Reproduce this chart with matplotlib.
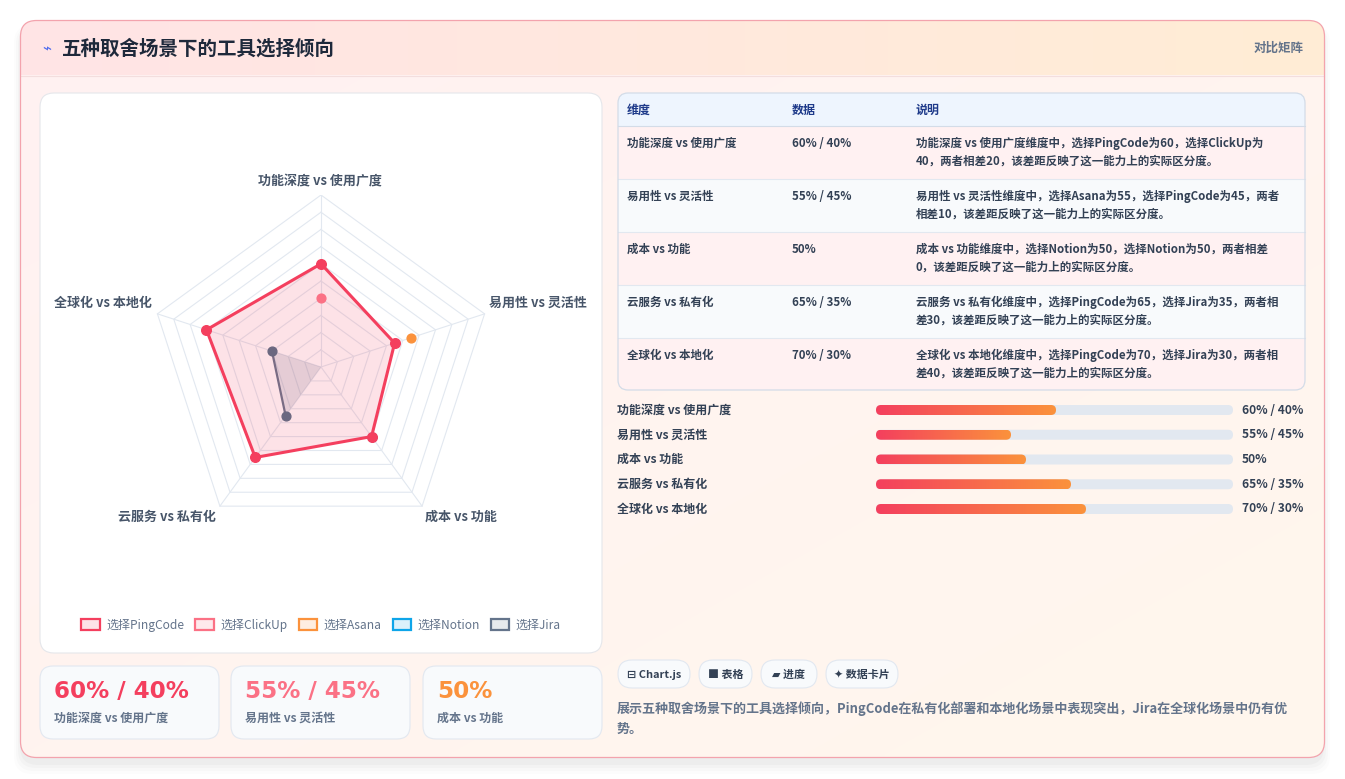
import numpy as np
import matplotlib
matplotlib.use("Agg")
import matplotlib.pyplot as plt
from matplotlib.patches import FancyBboxPatch, Patch, Polygon
from matplotlib.colors import LinearSegmentedColormap, to_rgba

plt.rcParams['font.family'] = ['Noto Sans CJK SC', 'DejaVu Sans']

W, H = 1345, 779

# ---- data ----
title = "五种取舍场景下的工具选择倾向"
tag = "对比矩阵"
dims = ["功能深度 vs 使用广度", "易用性 vs 灵活性", "成本 vs 功能", "云服务 vs 私有化", "全球化 vs 本地化"]
tools = ["选择PingCode", "选择ClickUp", "选择Asana", "选择Notion", "选择Jira"]
tool_colors = ["#f43f5e", "#fb7185", "#fb923c", "#0ea5e9", "#64748b"]
pingcode = [60, 45, 50, 65, 70]
clickup = [40, None, None, None, None]
asana = [None, 55, None, None, None]
notion = [None, None, 50, None, None]
jira = [None, None, None, 35, 30]
data_txt = ["60% / 40%", "55% / 45%", "50%", "65% / 35%", "70% / 30%"]
notes = [
    "功能深度 vs 使用广度维度中，选择PingCode为60，选择ClickUp为\n40，两者相差20，该差距反映了这一能力上的实际区分度。",
    "易用性 vs 灵活性维度中，选择Asana为55，选择PingCode为45，两者\n相差10，该差距反映了这一能力上的实际区分度。",
    "成本 vs 功能维度中，选择Notion为50，选择Notion为50，两者相差\n0，该差距反映了这一能力上的实际区分度。",
    "云服务 vs 私有化维度中，选择PingCode为65，选择Jira为35，两者相\n差30，该差距反映了这一能力上的实际区分度。",
    "全球化 vs 本地化维度中，选择PingCode为70，选择Jira为30，两者相\n差40，该差距反映了这一能力上的实际区分度。",
]
headers = ["维度", "数据", "说明"]
stat_colors = ["#f43f5e", "#fb7185", "#fb923c"]
chips = ["⊟ Chart.js", "■ 表格", "▰ 进度", "✦ 数据卡片"]
summary = ["展示五种取舍场景下的工具选择倾向，PingCode在私有化部署和本地化场景中表现突出，Jira在全球化场景中仍有优", "势。"]
bar_full = 119  # track length in value units


def pt(px):
    return px * 0.72


def rbox(ax, x, y, w, h, r, **kw):
    p = FancyBboxPatch((x, y), w, h, boxstyle=f"round,pad=0,rounding_size={r}", **kw)
    ax.add_patch(p)
    return p


def gradient(ax, extent, c0, c1, clip, diag=False, z=1):
    cmap = LinearSegmentedColormap.from_list("g", [c0, c1])
    xs = np.linspace(0, 1, 200)
    ys = np.linspace(0, 1, 100)
    if diag:
        arr = (xs[None, :] + ys[:, None]) / 2
    else:
        arr = np.tile(xs, (100, 1))
    im = ax.imshow(arr, cmap=cmap, extent=extent, aspect='auto', origin='upper',
                   interpolation='bilinear', zorder=z)
    im.set_clip_path(clip)
    return im


fig = plt.figure(figsize=(W / 100, H / 100), dpi=100)
fig.patch.set_facecolor("white")
bg = fig.add_axes([0, 0, 1, 1])
bg.set_xlim(0, W)
bg.set_ylim(H, 0)
bg.axis('off')

# shadow + main card
for i, a in enumerate([0.025, 0.02, 0.015, 0.01]):
    rbox(bg, 20 - i * 2, 24 - i * 1 + 4, 1304 + i * 4, 737 + i * 4, 18, fc="#000000", ec="none", alpha=a, zorder=0)
card = rbox(bg, 20.5, 20.5, 1304, 737, 16, fc="none", ec="#f3a3ad", lw=0.9, zorder=5)
gradient(bg, (20, 1325, 758, 20), "#fff1f2", "#fff7ed", card, diag=True, z=1)
gradient(bg, (20, 1325, 75, 20), "#ffe4e6", "#ffedd5", card, z=2)
bg.plot([21, 1324], [75.5, 75.5], color="#f3dede", lw=0.8, zorder=3)

bg.text(47, 49, "⌁", fontsize=pt(15), color="#4f6bed", ha="center", va="center", zorder=6,
        family=["DejaVu Sans"])
bg.text(62, 49, title, fontsize=pt(19.5), fontweight="bold", color="#1e293b", va="center", zorder=6)
bg.text(1304, 48, tag, fontsize=pt(12.5), color="#64748b", ha="right", va="center", fontweight="bold", zorder=6)

# radar card
rbox(bg, 40, 93, 562, 560, 14, fc="white", ec="#e5e7eb", lw=0.8, zorder=4)

# radar
cx, cy, R = 321, 367, 172
ax_r = fig.add_axes([(cx - R) / W, 1 - (cy + R) / H, 2 * R / W, 2 * R / H])
ax_r.set_xlim(-100, 100)
ax_r.set_ylim(-100, 100)
ax_r.axis('off')
ang = np.deg2rad(90 - 72 * np.arange(len(dims)))
for r in range(10, 101, 10):
    ax_r.plot(np.append(r * np.cos(ang), r * np.cos(ang[0])),
              np.append(r * np.sin(ang), r * np.sin(ang[0])), color="#e2e8f0", lw=0.8, zorder=1)
for a in ang:
    ax_r.plot([0, 100 * np.cos(a)], [0, 100 * np.sin(a)], color="#e2e8f0", lw=0.8, zorder=1)


def pts(vals):
    return [(v * np.cos(a), v * np.sin(a)) for v, a in zip(vals, ang) if v is not None]


# jira: partial series with fill to centre
jp = pts(jira)
ax_r.add_patch(Polygon([(0, 0)] + jp, closed=True, fc=(100 / 255, 116 / 255, 139 / 255, 0.18), ec="none", zorder=2))
ax_r.plot([p[0] for p in jp], [p[1] for p in jp], color="#64748b", lw=1.6, zorder=3)
ax_r.scatter([p[0] for p in jp], [p[1] for p in jp], s=40, color="#6b6880", zorder=4)
for vals, col in [(notion, "#0ea5e9"), (asana, "#fb923c"), (clickup, "#fb7185")]:
    p = pts(vals)
    ax_r.scatter([q[0] for q in p], [q[1] for q in p], s=40, color=col, zorder=4)
pp = pts(pingcode)
ax_r.add_patch(Polygon(pp, closed=True, fc=(244 / 255, 63 / 255, 94 / 255, 0.15), ec="#f43f5e", lw=2.2, zorder=3))
ax_r.scatter([p[0] for p in pp], [p[1] for p in pp], s=48, color="#f43f5e", zorder=5)

label_pos = [(320, 181, "center"), (489, 303, "left"), (425, 517, "left"), (216, 517, "right"), (152, 303, "right")]
for d, (x, y, ha) in zip(dims, label_pos):
    bg.text(x, y, d, fontsize=pt(13), fontweight="bold", color="#475569", ha=ha, va="center", zorder=6)

handles = [Patch(fc=to_rgba(c, 0.15), ec=c, lw=1.6) for c in tool_colors]
fig.legend(handles, tools, loc="center", bbox_to_anchor=(321 / W, 1 - 625 / H), ncol=5, frameon=False,
           fontsize=pt(12), handlelength=1.55, handleheight=1.0, handletextpad=0.5, columnspacing=0.95,
           labelcolor="#64748b")

# stat cards
for i, x0 in enumerate([40, 231, 423]):
    rbox(bg, x0, 666, 179, 73, 13, fc="#f8fafc", ec="#e2e8f0", lw=0.8, zorder=4)
    bg.text(x0 + 14, 692, data_txt[i], fontsize=pt(23), fontweight="bold", color=stat_colors[i],
            family="DejaVu Sans", va="center", zorder=6)
    bg.text(x0 + 14, 718, dims[i], fontsize=pt(12), color="#64748b", fontweight="bold", va="center", zorder=6)

# table
tbl = rbox(bg, 618, 93, 687, 297, 10, fc="none", ec="#d3dce8", lw=0.9, zorder=6)
hdr = bg.add_patch(plt.Rectangle((618, 93), 687, 33, fc="#eef5fe", ec="none", zorder=4))
hdr.set_clip_path(tbl)
bg.plot([618, 1305], [126, 126], color="#d3dce8", lw=0.8, zorder=5)
col_x = [627, 792, 916]
for x, t in zip(col_x, headers):
    bg.text(x, 110, t, fontsize=pt(12), fontweight="bold", color="#1e3a8a", va="center", zorder=6)
for i in range(len(dims)):
    y0 = 126 + 53 * i
    rc = bg.add_patch(plt.Rectangle((618, y0), 687, 53, fc="#fff1f2" if i % 2 == 0 else "#f8fafc",
                                    ec="none", zorder=4))
    rc.set_clip_path(tbl)
    if i > 0:
        bg.plot([618, 1305], [y0, y0], color="#e2e8f0", lw=0.8, zorder=5)
    bg.text(col_x[0], y0 + 17, dims[i], fontsize=pt(11.5), fontweight="bold", color="#334155", va="center", zorder=6)
    bg.text(col_x[1], y0 + 17, data_txt[i], fontsize=pt(11.5), fontweight="bold", color="#334155", va="center", zorder=6)
    for k, line in enumerate(notes[i].split("\n")):
        bg.text(col_x[2], y0 + 17 + 18 * k, line, fontsize=pt(11.5), fontweight="bold", color="#334155",
                va="center", zorder=6)

# progress bars
ax_b = fig.add_axes([876 / W, 1 - 521 / H, 357 / W, 123 / H])
ax_b.set_xlim(0, bar_full)
ax_b.set_ylim(41, 0)
ax_b.axis('off')
bh = 10 / 3
for i, v in enumerate(pingcode):
    yc = 4 + 8.25 * i
    rbox(ax_b, 0, yc - bh / 2, bar_full, bh, bh / 2, fc="#e2e8f0", ec="none", zorder=1)
    fp = rbox(ax_b, 0, yc - bh / 2, v, bh, bh / 2, fc="none", ec="none", zorder=2)
    gradient(ax_b, (0, v, yc + bh / 2, yc - bh / 2), "#f43f5e", "#fb923c", fp, z=2)
    py = 410 + 24.75 * i
    bg.text(617, py, dims[i], fontsize=pt(12), fontweight="bold", color="#334155", va="center", zorder=6)
    bg.text(1242, py, data_txt[i], fontsize=pt(12), fontweight="bold", color="#334155", va="center", zorder=6)
ax_b.set_xlim(0, bar_full)
ax_b.set_ylim(41, 0)

# chips
for (x0, x1), t in zip([(618, 690), (699, 752), (761, 817), (826, 898)], chips):
    rbox(bg, x0, 660, x1 - x0, 28, 14, fc="#f8fafc", ec="#e2e8f0", lw=0.8, zorder=4)
    bg.text((x0 + x1) / 2, 674.5, t, fontsize=pt(11), fontweight="bold", color="#334155",
            ha="center", va="center", zorder=6)

for k, line in enumerate(summary):
    bg.text(617, 709 + 20 * k, line, fontsize=pt(13), fontweight="bold", color="#64748b", va="center", zorder=6)

bg.set_xlim(0, W)
bg.set_ylim(H, 0)
fig.savefig("out.png", dpi=100)
